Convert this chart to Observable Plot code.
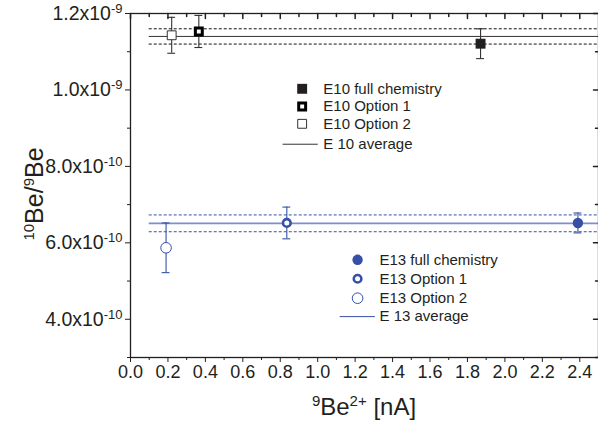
<!DOCTYPE html>
<html>
<head>
<meta charset="utf-8">
<script src="https://cdn.jsdelivr.net/npm/d3@7"></script>
<script src="https://cdn.jsdelivr.net/npm/@observablehq/plot@0.6"></script>
<style>
  html, body { margin: 0; padding: 0; background: #fff; }
  #chart { position: relative; width: 598px; height: 425px; }
</style>
</head>
<body>
<div id="chart"></div>
<script>
// ---- data ----
const seriesNames = ["E10 full chemistry", "E10 Option 1", "E10 Option 2",
                     "E13 full chemistry", "E13 Option 1", "E13 Option 2"];
const beCurrent = [1.87, 0.365, 0.22, 2.39, 0.835, 0.19];          // 9Be2+ [nA]
const beRatio   = [1.121e-9, 1.153e-9, 1.143e-9, 6.52e-10, 6.52e-10, 5.87e-10];
const beError   = [0.039e-9, 0.042e-9, 0.047e-9, 0.26e-10, 0.415e-10, 0.65e-10];

const averageNames  = ["E 10 average", "E 13 average"];
const averageValue  = [1.14e-9, 6.51e-10];
const averageSpread = [0.02e-9, 0.22e-10];
const averageFrom   = [0.1, 0.1];

const xTicks = [0, 0.2, 0.4, 0.6, 0.8, 1.0, 1.2, 1.4, 1.6, 1.8, 2.0, 2.2, 2.4];
const xMinorTicks = [0.1, 0.3, 0.5, 0.7, 0.9, 1.1, 1.3, 1.5, 1.7, 1.9, 2.1, 2.3];
const yTicks = [4e-10, 6e-10, 8e-10, 1.0e-9, 1.2e-9];
const yMinorTicks = [3e-10, 5e-10, 7e-10, 9e-10, 1.1e-9];
const yTickLabels = ["4.0x10^-10", "6.0x10^-10", "8.0x10^-10", "1.0x10^-9", "1.2x10^-9"];

// ---- styles ----
const blue = "#3550a6";
const blueLight = "#7d90cc";
const dark = "#231f20";
const styleOf = {
  "E10 full chemistry": {symbol: "square", r: 5.6, fill: dark, stroke: "none", sw: 0},
  "E10 Option 1":       {symbol: "square", r: 3.9, fill: "white", stroke: "black", sw: 3},
  "E10 Option 2":       {symbol: "square", r: 5.0, fill: "white", stroke: "#333", sw: 1},
  "E13 full chemistry": {symbol: "circle", r: 5.2, fill: blue, stroke: "none", sw: 0},
  "E13 Option 1":       {symbol: "circle", r: 3.8, fill: "white", stroke: blue, sw: 2.6},
  "E13 Option 2":       {symbol: "circle", r: 5.3, fill: "white", stroke: blue, sw: 1}
};
const colorOf = name => name.startsWith("E10") || name.startsWith("E 10") ? "#333" : blue;

const points = seriesNames.map((s, i) => ({
  s, x: beCurrent[i], y: beRatio[i], lo: beRatio[i] - beError[i], hi: beRatio[i] + beError[i]
}));
const avgs = averageNames.map((s, i) => ({
  s, x1: averageFrom[i], x2: 2.5, y: averageValue[i],
  lo: averageValue[i] - averageSpread[i], hi: averageValue[i] + averageSpread[i]
}));

// legend layout (data-space anchors)
const legendLayout = [
  {group: "E10", markerX: 0.917, textX: 1.03, lineX1: 0.815, lineX2: 1.003, rows: [1.003e-9, 0.9567e-9, 0.9114e-9, 0.858e-9]},
  {group: "E13", markerX: 1.213, textX: 1.33, lineX1: 1.12, lineX2: 1.308, rows: [5.556e-10, 5.06e-10, 4.551e-10, 4.07e-10]}
];
const legendItems = [];
legendLayout.forEach(L => {
  const names = seriesNames.filter(n => n.startsWith(L.group));
  names.forEach((n, i) => legendItems.push({s: n, x: L.markerX, tx: L.textX, y: L.rows[i], kind: "dot"}));
  const an = averageNames.find(n => n.replace(" ", "").startsWith(L.group));
  legendItems.push({s: an, x1: L.lineX1, x2: L.lineX2, tx: L.textX, y: L.rows[3], kind: "line"});
});

const capHalf = 0.021;
const marks = [];

// average lines
avgs.forEach(a => {
  const c = a.s.startsWith("E 10");
  marks.push(Plot.ruleY([a], {y: "lo", x1: "x1", x2: "x2", stroke: c ? "#111" : blue, strokeWidth: 1, strokeDasharray: "3,2"}));
  marks.push(Plot.ruleY([a], {y: "hi", x1: "x1", x2: "x2", stroke: c ? "#111" : blue, strokeWidth: 1, strokeDasharray: "3,2"}));
  marks.push(Plot.ruleY([a], {y: "y", x1: "x1", x2: "x2", stroke: c ? "#333" : blueLight, strokeWidth: c ? 1 : 1.6}));
});

// error bars
marks.push(Plot.ruleX(points, {x: "x", y1: "lo", y2: "hi", stroke: d => colorOf(d.s), strokeWidth: 1.1}));
marks.push(Plot.ruleY(points, {y: "lo", x1: d => d.x - capHalf, x2: d => d.x + capHalf, stroke: d => colorOf(d.s), strokeWidth: 1.1}));
marks.push(Plot.ruleY(points, {y: "hi", x1: d => d.x - capHalf, x2: d => d.x + capHalf, stroke: d => colorOf(d.s), strokeWidth: 1.1}));

// points + legend markers
seriesNames.forEach(n => {
  const st = styleOf[n];
  const opts = {symbol: st.symbol, r: st.r, fill: st.fill, stroke: st.stroke, strokeWidth: st.sw};
  marks.push(Plot.dot(points.filter(d => d.s === n), {x: "x", y: "y", ...opts}));
  marks.push(Plot.dot(legendItems.filter(d => d.s === n), {x: "x", y: "y", ...opts}));
});
marks.push(Plot.ruleY(legendItems.filter(d => d.kind === "line"), {y: "y", x1: "x1", x2: "x2", stroke: d => d.s.startsWith("E 10") ? "#333" : blue, strokeWidth: 1}));
marks.push(Plot.text(legendItems, {x: "tx", y: "y", text: "s", textAnchor: "start", fill: "#231f20", fontSize: 15}));

// axes
const tickShape = {draw(context, l) { context.moveTo(0, 0); context.lineTo(0, -l); }};
marks.push(Plot.axisX({anchor: "bottom", ticks: xTicks, tickSize: 5, tickPadding: 3, tickFormat: d => d.toFixed(1), label: null, fontSize: 18}));
marks.push(Plot.axisX({anchor: "bottom", ticks: xMinorTicks, tickSize: 3, text: null, label: null}));
marks.push(Plot.vector(xTicks, {x: d => d, frameAnchor: "top", length: 5, rotate: 180, anchor: "start", shape: tickShape, stroke: dark}));
marks.push(Plot.vector(xMinorTicks, {x: d => d, frameAnchor: "top", length: 3, rotate: 180, anchor: "start", shape: tickShape, stroke: dark}));
marks.push(Plot.axisY({anchor: "left", ticks: yTicks, tickSize: 5, tickPadding: 3, tickFormat: d => yTickLabels[yTicks.indexOf(d)], label: null, fontSize: 19.5}));
marks.push(Plot.axisY({anchor: "left", ticks: yMinorTicks, tickSize: 3, text: null, label: null}));
marks.push(Plot.vector(yTicks, {y: d => d, frameAnchor: "right", length: 5, rotate: -90, anchor: "start", shape: tickShape, stroke: dark}));
marks.push(Plot.vector(yMinorTicks, {y: d => d, frameAnchor: "right", length: 3, rotate: -90, anchor: "start", shape: tickShape, stroke: dark}));
marks.push(Plot.frame({stroke: "#231f20", strokeWidth: 1.3}));

const chart = Plot.plot({
  width: 598,
  height: 425,
  marginLeft: 130,
  marginRight: 0,
  marginTop: 13,
  marginBottom: 68,
  x: {domain: [0, 2.5]},
  y: {domain: [3e-10, 1.2e-9]},
  style: {fontFamily: "'Liberation Sans', Arial, sans-serif", fontSize: "17px", color: "#231f20", background: "white", overflow: "visible"},
  marks
});
document.getElementById("chart").appendChild(chart);

// superscripts for y tick labels
d3.select(chart).selectAll('g[aria-label="y-axis tick label"] text').each(function() {
  const t = d3.select(this);
  const parts = t.text().split("^");
  if (parts.length < 2) return;
  t.text(parts[0]);
  t.append("tspan").attr("dy", "-7px").attr("font-size", "13px").text(parts[1]);
});

// axis titles with superscripts (dy in px so the shifts cancel)
const svg = d3.select(chart);
function addTitle(text, parts) {
  parts.forEach(([str, sup]) => {
    if (sup) text.append("tspan").attr("font-size", 15).attr("dy", "-9px").text(str);
    else text.append("tspan").attr("dy", "9px").text(str);
  });
}
const yt = svg.append("text")
  .attr("transform", "translate(43,194) rotate(-90)")
  .attr("text-anchor", "middle")
  .attr("font-size", 25).attr("fill", "#231f20")
  .attr("y", 0);
addTitle(yt, [["10", true], ["Be/", false], ["9", true], ["Be", false]]);

const xt = svg.append("text")
  .attr("x", 364).attr("y", 415)
  .attr("text-anchor", "middle")
  .attr("font-size", 24).attr("fill", "#231f20");
addTitle(xt, [["9", true], ["Be", false], ["2+", true], [" [nA]", false]]);
</script>
</body>
</html>
